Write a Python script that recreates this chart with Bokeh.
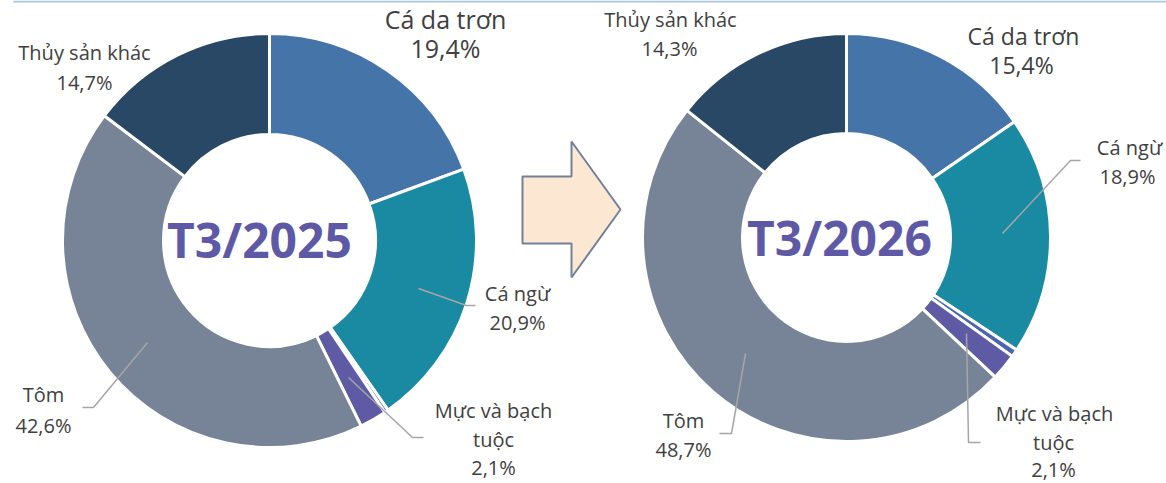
import numpy as np
from bokeh.plotting import figure
from bokeh.models import Range1d
from bokeh.core.properties import value
from bokeh.embed import file_html
from bokeh.resources import INLINE

# ---------------- data ----------------
categories = ["Cá da trơn", "Cá ngừ", "Khác (nhỏ)", "Mực và bạch tuộc", "Tôm", "Thủy sản khác"]
colors = ["#4574A8", "#1A8AA2", "#4A66AC", "#5E5AA4", "#778396", "#294866"]
values_2025 = [19.4, 20.9, 0.3, 2.1, 42.6, 14.7]
values_2026 = [15.4, 18.9, 0.6, 2.1, 48.7, 14.3]
titles = ["T3/2025", "T3/2026"]

W, H = 1166, 483  # reference pixel frame; y data = H - y_ref


def Y(yref):
    return H - yref


p = figure(width=W, height=H, x_range=Range1d(0, W), y_range=Range1d(0, H),
           output_backend="svg", toolbar_location=None, min_border=0)
p.axis.visible = False
p.grid.visible = False
p.outline_line_color = None
p.background_fill_color = "white"
p.border_fill_color = "white"

# top light-blue rule
p.segment(x0=[13], y0=[Y(1)], x1=[1166], y1=[Y(1)], line_color="#A9C4E4", line_width=2)


def donut(cx, cy, r_in, r_out, vals):
    v = np.array(vals, dtype=float)
    frac = v / v.sum()
    cum = np.concatenate([[0], np.cumsum(frac)])
    start = np.pi / 2 - 2 * np.pi * cum[:-1]
    end = np.pi / 2 - 2 * np.pi * cum[1:]
    p.annular_wedge(x=[cx] * len(v), y=[Y(cy)] * len(v), inner_radius=r_in, outer_radius=r_out,
                    start_angle=list(start), end_angle=list(end), direction="clock",
                    fill_color=colors, line_color="white", line_width=3)


donut(269, 240, 106, 207, values_2025)
donut(846, 237, 104, 204, values_2026)

# arrow
ax = [522, 571, 571, 620, 571, 571, 522]
ay = [176, 176, 141, 209, 277, 243, 243]
p.patch(x=ax, y=[Y(v) for v in ay], fill_color="#FCE8D2", line_color="#71819A", line_width=2)

# leader lines
leaders = [
    ([418, 466, 475], [288, 305, 305]),
    ([348, 412, 423], [377, 437, 437]),
    ([147, 93, 82], [342, 407, 407]),
    ([1002, 1070, 1080], [233, 160, 160]),
    ([745, 731, 719], [353, 433, 433]),
    ([966, 968, 980], [333, 442, 442]),
]
for xs, ys in leaders:
    p.line(x=xs, y=[Y(v) for v in ys], line_color="#A6A6A6", line_width=1.5)

FONT = value("Open Sans")
TXT = "#404040"


def label(x, y, t, size):
    p.text(x=[x], y=[Y(y)], text=[t], text_font=FONT, text_font_size=f"{size}px",
           text_color=TXT, text_align="center", text_baseline="middle")


def pct(v):
    return f"{v:.1f}".replace(".", ",") + "%"


# left labels
label(445, 18, categories[0], 25)
label(445, 47, pct(values_2025[0]), 25)
label(84, 52, categories[5], 20)
label(84, 82, pct(values_2025[5]), 20)
label(517, 293, categories[1], 20)
label(517, 322, pct(values_2025[1]), 20)
label(493, 410, "Mực và bạch", 20)
label(493, 439, "tuộc", 20)
label(493, 467, pct(values_2025[3]), 20)
label(43, 394, categories[4], 20)
label(43, 425, pct(values_2025[4]), 20)

# right labels
label(1023, 35, categories[0], 23)
label(1021, 64, pct(values_2026[0]), 23)
label(670, 19, categories[5], 20)
label(669, 48, pct(values_2026[5]), 20)
label(1129, 147, categories[1], 20)
label(1127, 176, pct(values_2026[1]), 20)
label(1054, 413, "Mực và bạch", 20)
label(1053, 442, "tuộc", 20)
label(1053, 469, pct(values_2026[3]), 20)
label(683, 420, categories[4], 20)
label(683, 449, pct(values_2026[4]), 20)

# center titles
for (cx, cy), t in zip([(259, 239), (839, 237)], titles):
    p.text(x=[cx], y=[Y(cy)], text=[t], text_font=FONT, text_font_size="48px",
           text_font_style="bold", text_color="#5E59A6", text_align="center",
           text_baseline="middle")

open("out.html", "w").write(file_html(p, INLINE))
